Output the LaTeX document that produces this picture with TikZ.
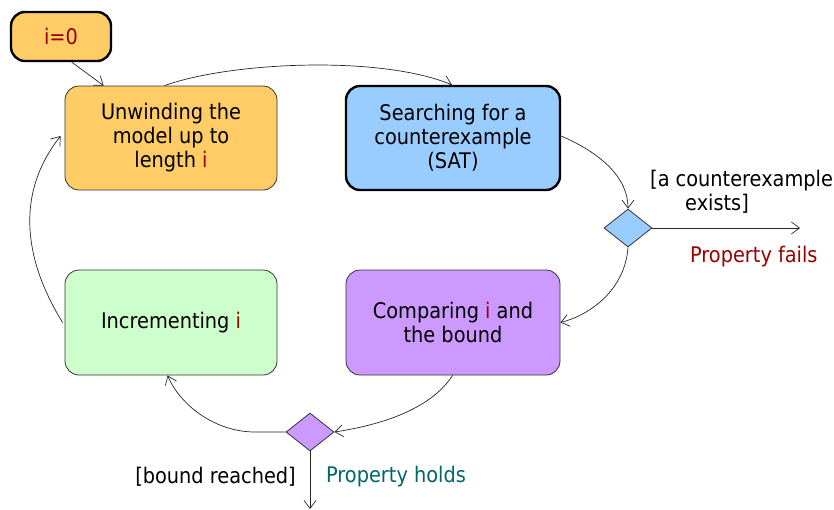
\documentclass[tikz,border=0pt]{standalone}
\usepackage{fontspec}
\setmainfont{DejaVu Sans Condensed}
\usetikzlibrary{arrows.meta,shapes.geometric}
\definecolor{corange}{HTML}{FFCC66}
\definecolor{cblue}{HTML}{99CCFF}
\definecolor{cgreen}{HTML}{CCFFCC}
\definecolor{cpurple}{HTML}{CC99FF}
\definecolor{cred}{HTML}{990000}
\definecolor{cteal}{HTML}{006666}
\begin{document}
\begin{tikzpicture}[x=1pt,y=-1pt,
  font=\fontsize{21.5}{24}\selectfont,
  box/.style={draw=black!80,line width=0.8pt,rounded corners=14pt,align=center,inner sep=0pt},
  thickbox/.style={box,draw=black,line width=2.4pt},
  dec/.style={draw=black!80,line width=0.8pt,diamond,inner sep=0pt,minimum width=48pt,minimum height=38pt,aspect=1.26},
  flow/.style={draw=black!85,line width=0.7pt,-{Straight Barb[length=8pt,width=12pt,line width=0.7pt]}},
  lbl/.style={inner sep=0pt,align=left}]
\useasboundingbox (0,0) rectangle (834,509);
\node[thickbox,fill=corange,minimum width=100pt,minimum height=49pt] (init) at (61,36.5) {\textcolor{cred}{i=0}};
\node[box,fill=corange,minimum width=212pt,minimum height=104pt] (unw) at (171,138) {Unwinding the\\model up to\\length \textcolor{cred}{i}};
\node[thickbox,fill=cblue,minimum width=214pt,minimum height=104pt] (sat) at (453,138) {Searching for a\\counterexample\\(SAT)};
\node[box,fill=cgreen,minimum width=212pt,minimum height=105pt] (inc) at (171,322.5) {Incrementing \textcolor{cred}{i}};
\node[box,fill=cpurple,minimum width=214pt,minimum height=105pt] (cmp) at (453,322.5) {Comparing \textcolor{cred}{i} and\\the bound};
\node[dec,fill=cblue] (d1) at (628,228) {};
\node[dec,fill=cpurple] (d2) at (310,432) {};
\coordinate (fail) at (800,228);
\coordinate (holds) at (310,509);
\node[lbl,anchor=west] (cex) at (650,192) {[a counterexample\\\hspace*{35pt}exists]};
\node[lbl,anchor=west,text=cred] (pf) at (690,257) {Property fails};
\node[lbl,anchor=east] (br) at (296,477) {[bound reached]};
\node[lbl,anchor=west,text=cteal] (ph) at (326,477) {Property holds};
\draw[flow] ([xshift=62pt]init.south west) -- ([xshift=39pt]unw.north west);
\draw[flow] ([xshift=100pt]unw.north west) .. controls (230,62) and (380,55) .. ([xshift=107pt]sat.north west);
\draw[flow] ([yshift=2pt]sat.east) .. controls (605,155) and (628,180) .. (d1.north);
\draw[flow] (d1.east) -- (fail);
\draw[flow] (d1.south) .. controls (625,290) and (590,315) .. (cmp.east);
\draw[flow] ([xshift=107pt]cmp.south west) .. controls (430,410) and (380,425) .. (d2.east);
\draw[flow] (d2.west) -- (255,432) .. controls (215,432) and (180,405) .. ([xshift=103pt]inc.south west);
\draw[flow] (d2.south) -- (holds);
\draw[flow] ([xshift=-2pt]inc.west) .. controls (30,270) and (10,200) .. ([xshift=-4pt,yshift=2pt]unw.west);
\end{tikzpicture}
\end{document}
